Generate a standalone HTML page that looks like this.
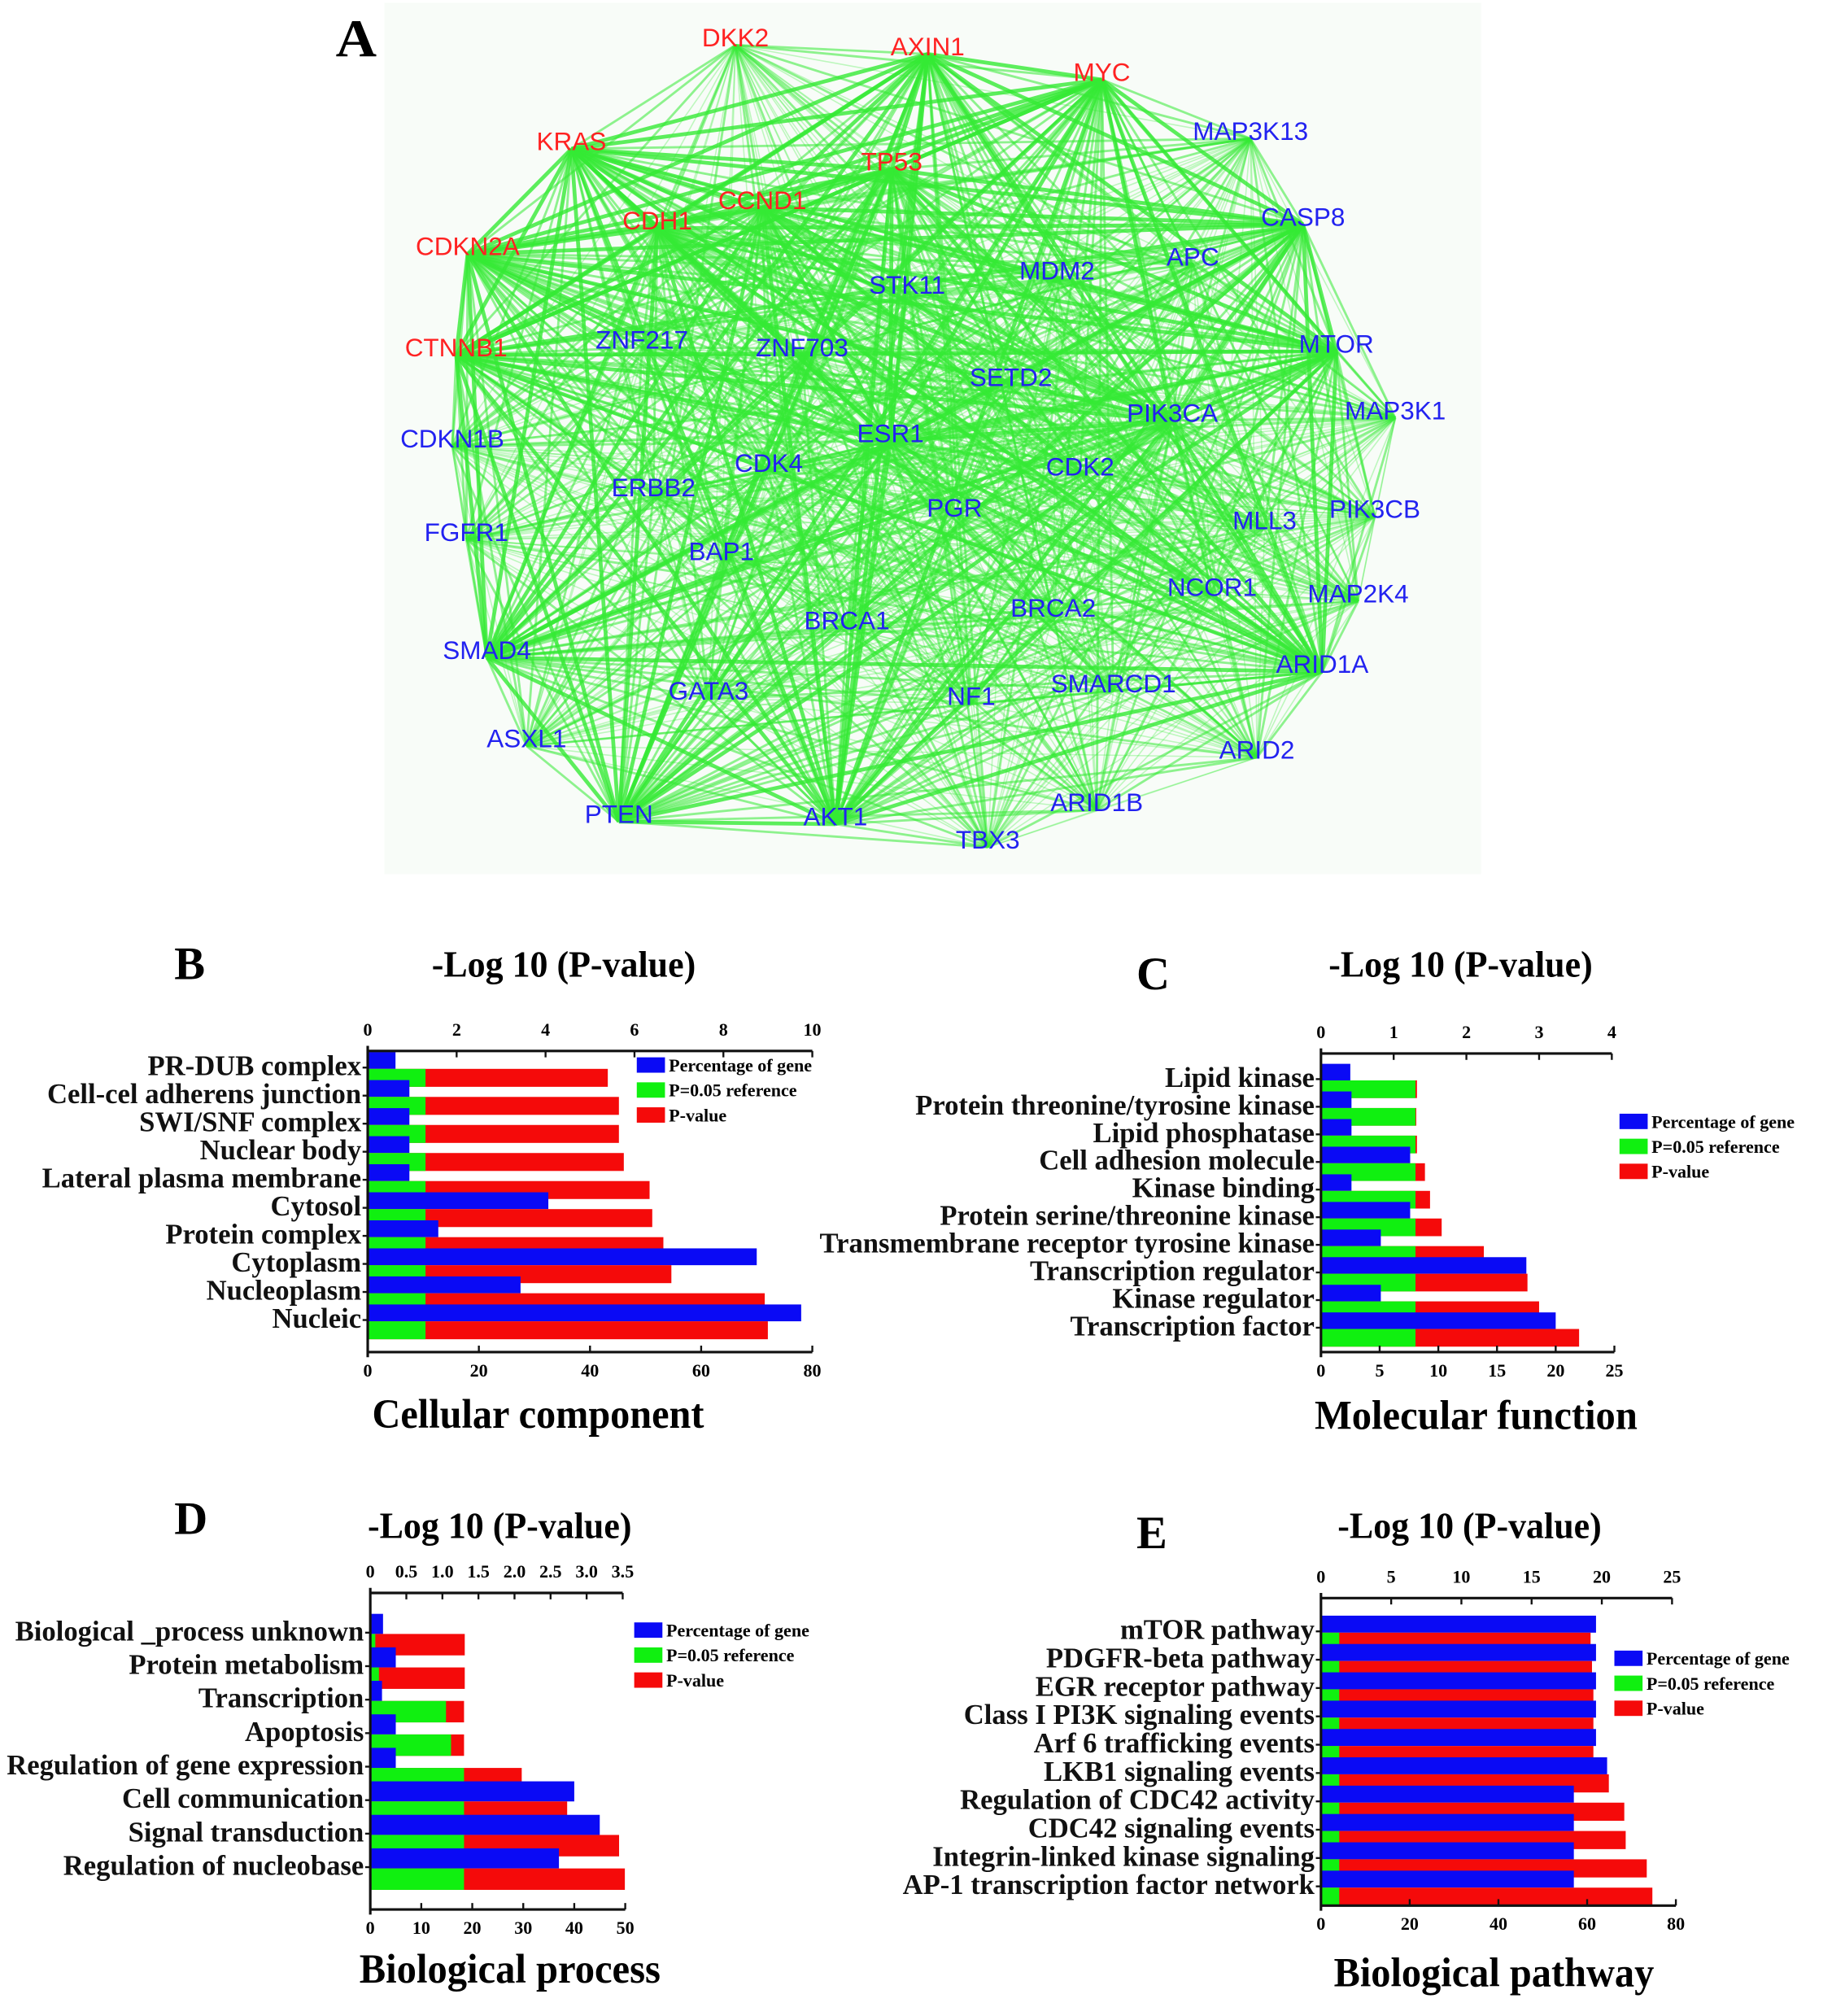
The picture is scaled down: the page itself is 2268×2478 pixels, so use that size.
<!DOCTYPE html>
<html><head><meta charset="utf-8"><style>
html,body{margin:0;padding:0;background:#fff;}
svg{display:block;}
</style></head><body>
<svg id="fig" xmlns="http://www.w3.org/2000/svg" width="2268" height="2478" viewBox="0 0 1440 1573">
<rect x="0" y="0" width="1440" height="1573" fill="#fff"/>
<rect x="300" y="2" width="856" height="680" fill="#f8fcf8"/>
<g id="edges"></g>
<g id="nodes"></g>
<text x="262" y="44" font-family="Liberation Serif, serif" font-weight="bold" font-size="42" textLength="32" lengthAdjust="spacingAndGlyphs">A</text>
<g id="charts"></g>
</svg>
<script>
const NS="http://www.w3.org/2000/svg";
function mk(tag,attrs,parent){const e=document.createElementNS(NS,tag);for(const k in attrs)e.setAttribute(k,attrs[k]);if(parent)parent.appendChild(e);return e;}

// ---------- Network (panel A) ----------
const nodeNames=["DKK2","AXIN1","MYC","MAP3K13","KRAS","TP53","CCND1","CDH1","CASP8","CDKN2A","APC","MDM2","STK11","ZNF217","ZNF703","CTNNB1","MTOR","SETD2","PIK3CA","MAP3K1","CDKN1B","ESR1","CDK4","CDK2","ERBB2","PGR","PIK3CB","MLL3","FGFR1","BAP1","NCOR1","MAP2K4","BRCA1","BRCA2","SMAD4","ARID1A","GATA3","SMARCD1","NF1","ASXL1","ARID2","ARID1B","PTEN","AKT1","TBX3"];
const nodeX=[574,724,860,976,446,696,595,513,1017,365,931,825,708,501,626,356,1043,789,915,1089,353,695,600,843,510,745,1073,987,364,563,946,1060,661,822,380,1032,553,869,758,411,981,856,483,652,771];
const nodeY=[29,36,56,102,110,126,156,172,169,192,200,211,222,265,271,271,268,294,322,320,342,338,361,364,380,396,397,406,415,430,458,463,484,474,507,518,539,533,543,576,585,626,635,637,655];
const redNodes=["DKK2","AXIN1","MYC","KRAS","TP53","CCND1","CDH1","CDKN2A","CTNNB1"];
const hubs=["AXIN1","MYC","KRAS","TP53","CCND1","CDH1","CDKN2A","CTNNB1","PTEN","AKT1","ESR1","CASP8","MTOR","PIK3CA","ARID1A","SMAD4"];
const eg=document.getElementById('edges');
for(let i=0;i<nodeNames.length;i++){for(let j=i+1;j<nodeNames.length;j++){
  const hub=hubs.includes(nodeNames[i])||hubs.includes(nodeNames[j]);
  const both=hubs.includes(nodeNames[i])&&hubs.includes(nodeNames[j]);
  const l=mk('line',{x1:nodeX[i],y1:nodeY[i]+6,x2:nodeX[j],y2:nodeY[j]+6,stroke:'#35ea35','stroke-opacity':both?0.8:(hub?0.55:0.3),'stroke-width':both?3:(hub?1.8:1)},eg);
  
  
}}
const ng=document.getElementById('nodes');
nodeNames.forEach((n,i)=>{
  const t=mk('text',{x:nodeX[i],y:nodeY[i]+7,'text-anchor':'middle','font-family':'Liberation Sans, sans-serif','font-size':20,fill:redNodes.includes(n)?'#f22':'#2222f0'},ng);
  t.textContent=n;
  
  
});

// ---------- Panel B data ----------
const bCats=["PR-DUB complex","Cell-cel adherens junction","SWI/SNF complex","Nuclear body","Lateral plasma membrane","Cytosol","Protein complex","Cytoplasm","Nucleoplasm","Nucleic"];
const bPct=[5,7.5,7.5,7.5,7.5,32.5,12.7,70,27.5,78];
const bRef=[1.3,1.3,1.3,1.3,1.3,1.3,1.3,1.3,1.3,1.3];
const bLogP=[5.4,5.65,5.65,5.76,6.34,6.4,6.65,6.83,8.93,9.0];
const bTopTicks=["0","2","4","6","8","10"];
const bBotTicks=["0","20","40","60","80"];
// ---------- Panel C data ----------
const cCats=["Lipid kinase","Protein threonine/tyrosine kinase","Lipid phosphatase","Cell adhesion molecule","Kinase binding","Protein serine/threonine kinase","Transmembrane receptor tyrosine kinase","Transcription regulator","Kinase regulator","Transcription factor"];
const cPct=[2.5,2.6,2.6,7.6,2.6,7.6,5.1,17.5,5.1,20];
const cRef=[1.3,1.3,1.3,1.3,1.3,1.3,1.3,1.3,1.3,1.3];
const cLogP=[1.32,1.31,1.32,1.43,1.5,1.66,2.24,2.84,3.0,3.55];
const cTopTicks=["0","1","2","3","4"];
const cBotTicks=["0","5","10","15","20","25"];
// ---------- Panel D data ----------
const dCats=["Biological _process unknown","Protein metabolism","Transcription","Apoptosis","Regulation of gene expression","Cell communication","Signal transduction","Regulation of nucleobase"];
const dPct=[2.5,5,2.3,5,5,40,45,37];
const dRef=[0.07,0.12,1.05,1.12,1.3,1.3,1.3,1.3];
const dLogP=[1.31,1.31,1.3,1.3,2.1,2.73,3.45,3.53];
const dTopTicks=["0","0.5","1.0","1.5","2.0","2.5","3.0","3.5"];
const dBotTicks=["0","10","20","30","40","50"];
// ---------- Panel E data ----------
const eCats=["mTOR pathway","PDGFR-beta pathway","EGR receptor pathway","Class I PI3K signaling events","Arf 6 trafficking events","LKB1 signaling events","Regulation of  CDC42 activity","CDC42 signaling events","Integrin-linked kinase signaling","AP-1 transcription factor network"];
const ePct=[62,62,62,62,62,64.5,57,57,57,57];
const eRef=[1.3,1.3,1.3,1.3,1.3,1.3,1.3,1.3,1.3,1.3];
const eLogP=[19.2,19.3,19.4,19.4,19.4,20.5,21.6,21.7,23.2,23.6];
const eTopTicks=["0","5","10","15","20","25"];
const eBotTicks=["0","20","40","60","80"];

const charts=document.getElementById('charts');
function drawPanel(o){
  const g=mk('g',{},charts);
  
  
  const F='Liberation Serif, serif';
  const topMax=parseFloat(o.topTicks[o.topTicks.length-1]), botMax=parseFloat(o.botTicks[o.botTicks.length-1]);
  const xTop=v=>o.x0+(v/topMax)*(o.x1-o.x0);
  const xBot=v=>o.x0+(v/botMax)*(o.xb1-o.x0);
  const n=o.cats.length;
  const rowY=i=>o.yFirst+i*(o.yLast-o.yFirst)/(n-1);
  const sp=(o.yLast-o.yFirst)/(n-1);
  const hb=sp*0.6, hg=sp*0.64;
  for(let i=0;i<n;i++){
    const c=rowY(i);
    let r=mk('rect',{x:o.x0,y:c-hb+1,width:xBot(o.pct[i])-o.x0,height:hb,fill:'#0a0af5'},g);
    
    r=mk('rect',{x:o.x0,y:c+1,width:xTop(o.logp[i])-o.x0,height:hg,fill:'#f50a0a'},g);
    
    r=mk('rect',{x:o.x0,y:c+1,width:xTop(Math.min(o.ref[i],o.logp[i]))-o.x0,height:hg,fill:'#10f010'},g);
    
    const t=mk('text',{x:o.x0-5,y:c+6,'text-anchor':'end','font-family':F,'font-weight':'bold','font-size':22,fill:'#111'},g);
    t.textContent=o.cats[i];
    
    mk('line',{x1:o.x0-4,y1:c,x2:o.x0,y2:c,stroke:'#111','stroke-width':1.5},g);
  }
  mk('line',{x1:o.x0,y1:o.yTop-4,x2:o.x0,y2:o.yBot+4,stroke:'#111','stroke-width':2},g);
  mk('line',{x1:o.x0,y1:o.yTop,x2:o.x1,y2:o.yTop,stroke:'#111','stroke-width':2},g);
  mk('line',{x1:o.x0,y1:o.yBot,x2:o.xb1,y2:o.yBot,stroke:'#111','stroke-width':2},g);
  o.topTicks.forEach(s=>{const x=xTop(parseFloat(s));
    mk('line',{x1:x,y1:o.yTop,x2:x,y2:o.yTop+5,stroke:'#111','stroke-width':1.5},g);
    const t=mk('text',{x:x,y:o.yTop-12,'text-anchor':'middle','font-family':F,'font-weight':'bold','font-size':14},g);t.textContent=s;
    });
  o.botTicks.forEach(s=>{const x=xBot(parseFloat(s));
    mk('line',{x1:x,y1:o.yBot,x2:x,y2:o.yBot-5,stroke:'#111','stroke-width':1.5},g);
    const t=mk('text',{x:x,y:o.yBot+19,'text-anchor':'middle','font-family':F,'font-weight':'bold','font-size':14},g);t.textContent=s;
    });
  let t=mk('text',{x:o.titleX,y:o.titleY,'text-anchor':'middle','font-family':F,'font-weight':'bold','font-size':29,textLength:206,lengthAdjust:'spacingAndGlyphs'},g);
  t.textContent='-Log 10 (P-value)';
  t=mk('text',{x:o.subX,y:o.subY,'text-anchor':'middle','font-family':F,'font-weight':'bold','font-size':32,textLength:o.subW,lengthAdjust:'spacingAndGlyphs'},g);
  t.textContent=o.sub;
  t=mk('text',{x:o.letX,y:o.letY,'font-family':F,'font-weight':'bold','font-size':36},g);
  t.textContent=o.letter;
  const leg=[['#0a0af5','Percentage of gene'],['#10f010','P=0.05 reference'],['#f50a0a','P-value']];
  leg.forEach((L,k)=>{
    const yy=o.legY+k*19.5;
    const r=mk('rect',{x:o.legX,y:yy-11,width:22,height:12,fill:L[0]},g);
    
    const tx=mk('text',{x:o.legX+25,y:yy,'font-family':F,'font-weight':'bold','font-size':14},g);
    tx.textContent=L[1];
  });
}
drawPanel({id:'cellular-component',cats:bCats,pct:bPct,ref:bRef,logp:bLogP,topTicks:bTopTicks,botTicks:bBotTicks,
  x0:287,x1:634,xb1:634,yTop:820,yBot:1055,yFirst:833,yLast:1030,titleX:440,titleY:762,sub:'Cellular component',subW:259,subX:420,subY:1114,letter:'B',letX:136,letY:764,legX:497,legY:836});
drawPanel({id:'molecular-function',cats:cCats,pct:cPct,ref:cRef,logp:cLogP,topTicks:cTopTicks,botTicks:cBotTicks,
  x0:1031,x1:1258,xb1:1260,yTop:822,yBot:1055,yFirst:842,yLast:1036,titleX:1140,titleY:762,sub:'Molecular function',subW:252,subX:1152,subY:1115,letter:'C',letX:887,letY:772,legX:1264,legY:880});
drawPanel({id:'biological-process',cats:dCats,pct:dPct,ref:dRef,logp:dLogP,topTicks:dTopTicks,botTicks:dBotTicks,
  x0:289,x1:486,xb1:488,yTop:1243,yBot:1490,yFirst:1274,yLast:1457,titleX:390,titleY:1200,sub:'Biological process',subW:235,subX:398,subY:1547,letter:'D',letX:136,letY:1197,legX:495,legY:1277});
drawPanel({id:'biological-pathway',cats:eCats,pct:ePct,ref:eRef,logp:eLogP,topTicks:eTopTicks,botTicks:eBotTicks,
  x0:1031,x1:1305,xb1:1308,yTop:1247,yBot:1487,yFirst:1273,yLast:1472,titleX:1147,titleY:1200,sub:'Biological pathway',subW:250,subX:1166,subY:1550,letter:'E',letX:887,letY:1208,legX:1260,legY:1299});
</script>
</body></html>
